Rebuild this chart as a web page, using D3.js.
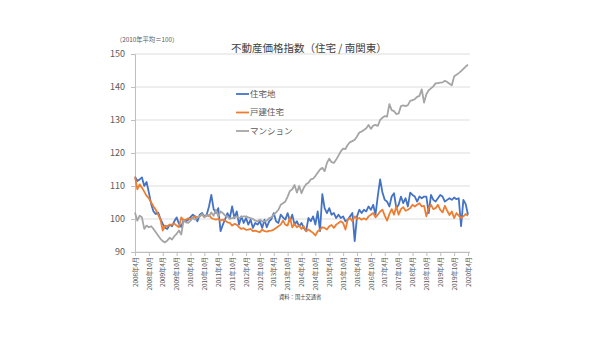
<!DOCTYPE html>
<html><head><meta charset="utf-8">
<script src="https://cdn.jsdelivr.net/npm/d3@7/dist/d3.min.js"></script>
<style>
  body { margin: 0; background: #fff; }
  svg { display: block; font-family: "Noto Sans CJK JP", "Noto Sans", sans-serif; }
</style>
</head><body>
<svg id="chart" width="600" height="337"></svg>
<script>
// 不動産価格指数（住宅／南関東）, monthly, 2008年4月 – 2020年4月, 2010年平均＝100
const seriesNames = ["住宅地", "戸建住宅", "マンション"];
const seriesColors = ["#4472C4", "#ED7D31", "#A5A5A5"];

const housingLand = [
  112.8, 111.5, 112.0, 112.6, 110.0, 111.2, 108.0, 104.5, 102.3, 101.5,
  102.0, 100.0, 98.5, 97.3, 97.0, 98.3, 97.8, 99.3, 100.5, 98.6,
  97.6, 99.8, 99.3, 99.8, 100.6, 101.3, 100.8, 99.3, 101.3, 101.8,
  100.8, 101.3, 103.8, 107.3, 103.0, 101.8, 103.3, 96.3, 98.3, 100.0,
  101.8, 100.3, 103.8, 100.3, 102.3, 98.3, 100.8, 98.8, 100.3, 98.3,
  99.8, 97.3, 98.8, 98.3, 99.3, 97.3, 99.8, 97.5, 99.3, 100.0,
  101.8, 99.3, 98.8, 101.3, 100.5, 99.8, 101.8, 99.3, 101.3, 98.3,
  99.3, 97.8, 98.8, 97.3, 96.3, 100.3, 99.3, 100.8, 98.3, 102.3,
  96.3, 107.5, 103.3, 101.8, 103.3, 101.3, 101.8, 100.3, 101.3, 100.3,
  100.8, 99.3, 99.8, 100.8, 101.8, 93.3, 100.8, 102.8, 101.8, 102.8,
  102.3, 103.8, 102.8, 104.3, 101.3, 107.0, 112.0, 108.0, 105.8, 105.3,
  103.8, 106.8, 107.8, 103.3, 104.3, 106.8, 104.8, 106.3, 103.8, 108.0,
  107.3, 106.8, 105.3, 106.8, 106.3, 106.8, 106.8, 101.8, 107.3, 105.8,
  105.3, 106.3, 107.3, 106.8, 105.3, 105.8, 106.3, 105.8, 106.5, 106.0,
  106.3, 97.8, 105.8, 104.5, 101.3
];

const detachedHouse = [
  112.8, 109.0, 110.5, 109.5, 108.3, 107.0, 106.3, 105.0, 103.8, 102.8,
  101.3, 99.8, 96.5, 98.0, 97.8, 98.3, 98.3, 98.6, 98.0, 97.5,
  100.5, 99.5, 99.8, 100.2, 100.0, 100.5, 100.8, 100.5, 100.8, 101.3,
  100.6, 101.0, 101.2, 100.3, 100.0, 99.8, 100.0, 99.5, 99.8, 99.5,
  99.0, 98.8, 98.0, 98.5, 98.3, 97.5, 97.0, 97.2, 96.7, 96.8,
  97.0, 96.3, 96.5, 96.2, 96.0, 96.8, 96.3, 96.2, 96.4, 96.5,
  96.8, 97.3, 97.8, 98.3, 99.5, 98.3, 98.0, 100.5, 97.5, 98.5,
  97.5, 98.0, 97.0, 97.8, 96.3, 96.8, 96.3, 95.8, 95.0, 96.3,
  96.8, 97.5, 97.3, 96.8, 97.8, 98.2, 97.3, 98.3, 98.8, 99.3,
  98.8, 96.8, 99.8, 100.3, 99.3, 100.8, 100.0, 100.3, 99.8, 100.2,
  99.8, 100.8, 101.3, 101.8, 100.5, 101.3, 102.3, 102.8, 101.0, 99.5,
  101.5, 103.0, 101.3, 103.8, 101.3, 103.0, 103.6, 102.5, 102.8, 103.3,
  104.3, 103.8, 104.3, 104.8, 103.8, 104.0, 100.8, 103.3, 104.3, 103.0,
  103.3, 104.3, 102.8, 102.0, 104.0, 102.5, 101.2, 102.3, 100.3, 101.8,
  101.0, 100.3, 100.8, 101.5, 101.0
];

const condominium = [
  102.0, 99.5, 101.0, 100.5, 97.0, 98.0, 97.5, 97.8, 97.0, 96.0,
  95.0, 94.0, 93.3, 92.9, 93.5, 94.3, 93.8, 94.8, 95.5, 96.5,
  95.3, 99.5, 99.0, 98.8, 99.5, 100.3, 99.8, 100.5, 100.8, 101.5,
  100.5, 101.2, 100.8, 102.0, 101.0, 102.8, 100.8, 102.3, 101.8, 101.0,
  100.8, 100.0, 100.3, 100.5, 100.8, 100.3, 100.6, 100.8, 100.8, 100.5,
  100.3, 100.0, 99.5, 99.3, 99.8, 99.3, 99.3, 99.5, 100.3, 100.5,
  101.3, 102.0, 102.8, 104.3, 104.8, 105.3, 106.8, 108.5, 109.0, 110.3,
  108.0, 110.0, 107.8, 109.5, 110.5, 111.0, 112.0, 112.2, 113.0, 114.0,
  115.0, 115.5, 114.5, 117.0, 118.3, 117.2, 117.0, 118.0, 119.2, 120.5,
  121.3, 121.2, 122.5, 123.3, 123.6, 124.0, 125.0, 126.2, 126.5, 127.0,
  127.5, 128.5, 127.3, 128.3, 128.5, 128.2, 130.0, 130.7, 131.2, 131.0,
  134.8, 133.0, 132.7, 131.8, 132.0, 134.2, 134.4, 134.2, 134.5, 135.8,
  136.0, 136.3, 137.0, 137.3, 139.3, 135.3, 137.8, 139.0, 139.6, 140.2,
  141.1, 141.2, 141.3, 141.4, 141.9, 141.5, 141.0, 140.5, 143.2, 143.7,
  144.2, 144.8, 145.5, 146.2, 146.8
];

const yTicks = [90, 100, 110, 120, 130, 140, 150];
const xTickLabels = [
  "2008年4月", "2008年10月", "2009年4月", "2009年10月", "2010年4月", "2010年10月",
  "2011年4月", "2011年10月", "2012年4月", "2012年10月", "2013年4月", "2013年10月",
  "2014年4月", "2014年10月", "2015年4月", "2015年10月", "2016年4月", "2016年10月",
  "2017年4月", "2017年10月", "2018年4月", "2018年10月", "2019年4月", "2019年10月",
  "2020年4月"
];
const labelStep = 6; // one label every six months

const svg = d3.select("#chart");
const plotLeft = 135, plotRight = 470, plotTop = 54, plotBottom = 252;

// month index 0 = 2008年4月
const months = d3.range(housingLand.length);
const x = d3.scalePoint().domain(months).range([plotLeft, 468]);
const y = d3.scaleLinear().domain([90, 150]).range([plotBottom, plotTop]);

// horizontal gridlines
svg.append("g").selectAll("line").data(yTicks).join("line")
  .attr("x1", plotLeft).attr("x2", plotRight)
  .attr("y1", d => y(d)).attr("y2", d => y(d))
  .attr("stroke", "#d9d9d9").attr("stroke-width", 0.9);

// value axis
const yAxis = svg.append("g").attr("transform", `translate(${plotLeft},0)`)
  .call(d3.axisLeft(y).tickValues(yTicks).tickSize(4).tickPadding(6));
yAxis.select(".domain").attr("stroke", "#bfbfbf");
yAxis.selectAll(".tick line").attr("stroke", "#bfbfbf");
yAxis.selectAll(".tick text")
  .attr("fill", "#595959").attr("font-size", "9px")
  .attr("font-family", "Noto Sans CJK JP, sans-serif");

// category axis
const tickIdx = xTickLabels.map((_, k) => k * labelStep);
const xAxis = svg.append("g").attr("transform", `translate(0,${plotBottom})`)
  .call(d3.axisBottom(x).tickValues(tickIdx).tickSize(4)
    .tickFormat((d, k) => xTickLabels[k]).tickSizeOuter(0));
xAxis.select(".domain").attr("stroke", "#bfbfbf").attr("d", `M${plotLeft},0.5H${plotRight}`);
xAxis.selectAll(".tick line").attr("stroke", "#bfbfbf");
xAxis.selectAll(".tick text")
  .attr("fill", "#595959").attr("font-size", "6.3px")
  .attr("font-family", "Noto Sans CJK JP, sans-serif")
  .attr("text-anchor", "end")
  .attr("dy", "0.35em")
  .attr("transform", "translate(0,4) rotate(-90)")
  .attr("x", -1).attr("y", 0);

// series lines
const line = d3.line().x((d, i) => x(i)).y(d => y(d));
const allSeries = [housingLand, detachedHouse, condominium];
svg.append("g").selectAll("path").data(allSeries).join("path")
  .attr("d", line)
  .attr("fill", "none")
  .attr("stroke", (d, k) => seriesColors[k])
  .attr("stroke-width", 1.8)
  .attr("stroke-linejoin", "round");

// legend
const legendY = [94, 112.5, 131];
const legend = svg.append("g");
seriesNames.forEach((name, k) => {
  legend.append("line")
    .attr("x1", 236).attr("x2", 249)
    .attr("y1", legendY[k]).attr("y2", legendY[k])
    .attr("stroke", seriesColors[k]).attr("stroke-width", 1.8);
  legend.append("text")
    .attr("x", 250).attr("y", legendY[k]).attr("dy", "0.35em")
    .attr("font-size", "8.5px").attr("fill", "#595959")
    .text(name);
});

// title and notes
svg.append("text").attr("x", 231).attr("y", 52)
  .attr("font-size", "10.5px").attr("fill", "#404040")
  .text("不動産価格指数（住宅 / 南関東）");
svg.append("text").attr("x", 116).attr("y", 42)
  .attr("font-size", "6.3px").attr("fill", "#595959")
  .text("（2010年平均＝100）");
svg.append("text").attr("x", 279).attr("y", 299)
  .attr("font-size", "5.3px").attr("fill", "#404040")
  .text("資料：国土交通省");
</script>
</body></html>
